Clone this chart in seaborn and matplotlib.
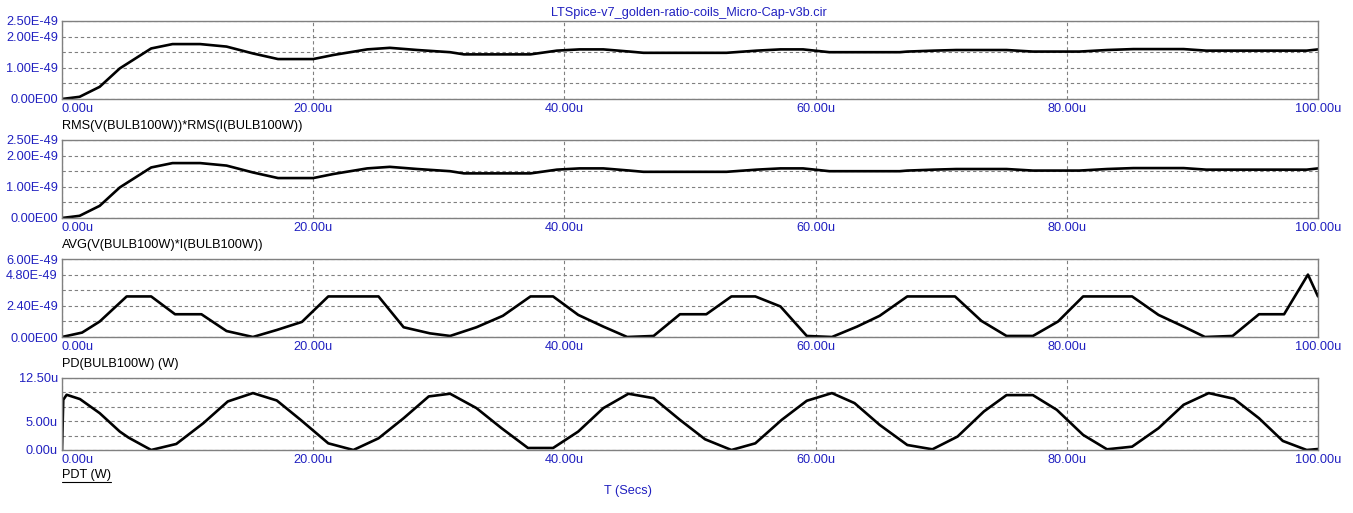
import numpy as np
import pandas as pd
import matplotlib
matplotlib.use("Agg")
import matplotlib.pyplot as plt
import seaborn as sns
from matplotlib.lines import Line2D

# --- data (time in microseconds) ---
rms_t = [0, 1.4, 3.0, 4.6, 7.1, 8.8, 11.0, 13.1, 15.2, 17.2, 20.0, 21.6, 24.3, 26.1, 28.3,
         30.9, 32.0, 37.3, 39.4, 41.2, 43.1, 45.2, 46.3, 52.9, 55.3, 57.2, 59.0, 61.1, 66.7,
         67.3, 69.4, 71.2, 75.2, 77.3, 81.0, 83.2, 85.3, 89.3, 91.1, 99.1, 100]
rms_v = [0, 0.07, 0.39, 0.98, 1.62, 1.76, 1.76, 1.68, 1.46, 1.28, 1.28, 1.41, 1.59, 1.64, 1.57,
         1.50, 1.43, 1.43, 1.55, 1.59, 1.59, 1.52, 1.48, 1.48, 1.55, 1.59, 1.59, 1.50, 1.50,
         1.52, 1.55, 1.57, 1.57, 1.52, 1.52, 1.57, 1.60, 1.60, 1.55, 1.55, 1.59]

avg_t = [0, 1.4, 3.0, 4.6, 7.1, 8.8, 11.0, 13.1, 15.2, 17.2, 20.0, 21.6, 24.3, 26.1, 28.3,
         30.9, 32.0, 37.3, 39.4, 41.2, 43.1, 45.2, 46.3, 52.9, 55.3, 57.2, 59.0, 61.1, 66.7,
         67.3, 69.4, 71.2, 75.2, 77.3, 81.0, 83.2, 85.3, 89.3, 91.1, 99.1, 100]
avg_v = [0, 0.07, 0.39, 0.98, 1.62, 1.76, 1.76, 1.68, 1.46, 1.28, 1.28, 1.41, 1.59, 1.64, 1.57,
         1.50, 1.43, 1.43, 1.55, 1.59, 1.59, 1.52, 1.48, 1.48, 1.55, 1.59, 1.59, 1.50, 1.50,
         1.52, 1.55, 1.57, 1.57, 1.52, 1.52, 1.57, 1.60, 1.60, 1.55, 1.55, 1.59]

pd_t = [0, 1.6, 3.0, 5.15, 7.1, 9.0, 11.1, 13.1, 15.2, 17.1, 19.1, 21.2, 25.2, 27.2, 29.3,
        30.9, 33.0, 35.1, 37.3, 39.1, 41.1, 43.1, 45.0, 47.1, 49.2, 51.3, 53.3, 55.2, 57.2,
        59.3, 61.3, 63.3, 65.1, 67.3, 71.1, 73.2, 75.2, 77.3, 79.3, 81.3, 85.2, 87.3, 89.3,
        91.0, 93.2, 95.3, 97.3, 99.2, 100]
pd_v = [0, 0.34, 1.19, 3.12, 3.12, 1.75, 1.75, 0.46, 0, 0.54, 1.16, 3.12, 3.12, 0.75, 0.28,
        0.08, 0.75, 1.63, 3.12, 3.12, 1.70, 0.80, 0, 0.08, 1.75, 1.75, 3.12, 3.12, 2.35,
        0.08, 0, 0.80, 1.63, 3.12, 3.12, 1.24, 0.08, 0.08, 1.19, 3.12, 3.12, 1.70, 0.80,
        0, 0.08, 1.75, 1.75, 4.80, 3.12]

pdt_t = [0, 0.1, 0.37, 1.43, 3.0, 4.6, 5.3, 7.1, 9.1, 11.25, 13.2, 15.2, 17.1, 19.0, 21.2,
         23.2, 25.2, 27.2, 29.2, 30.9, 33.0, 35.0, 37.1, 39.1, 41.1, 43.1, 45.1, 47.1, 49.2,
         51.2, 53.3, 55.2, 57.3, 59.3, 61.3, 63.1, 65.1, 67.3, 69.3, 71.3, 73.4, 75.2, 77.3,
         79.2, 81.3, 83.2, 85.2, 87.3, 89.3, 91.3, 93.3, 95.3, 97.2, 99.1, 100]
pdt_v = [0, 8.72, 9.59, 8.84, 6.4, 3.2, 2.15, 0, 1.05, 4.65, 8.43, 9.88, 8.6, 5.23, 1.16,
         0, 2.03, 5.52, 9.3, 9.77, 7.27, 3.78, 0.35, 0.35, 3.2, 7.27, 9.77, 9.0, 5.23,
         1.86, 0, 1.16, 5.23, 8.55, 9.88, 8.14, 4.36, 0.87, 0.12, 2.33, 6.69, 9.53, 9.53,
         6.98, 2.62, 0.12, 0.58, 3.78, 7.85, 9.88, 8.9, 5.52, 1.57, 0, 0.17]

x_ticks = [0, 20, 40, 60, 80, 100]
x_labels = ["0.00u", "20.00u", "40.00u", "60.00u", "80.00u", "100.00u"]

e49_ticks = [0, 0.5, 1.0, 1.5, 2.0, 2.5]
e49_labels = ["0.00E00", "", "1.00E-49", "", "2.00E-49", "2.50E-49"]
pd_ticks = [0, 1.2, 2.4, 3.6, 4.8, 6.0]
pd_labels = ["0.00E00", "", "2.40E-49", "", "4.80E-49", "6.00E-49"]
pdt_ticks = [0, 2.5, 5.0, 7.5, 10.0, 12.5]
pdt_labels = ["0.00u", "", "5.00u", "", "", "12.50u"]

captions = ["RMS(V(BULB100W))*RMS(I(BULB100W))",
            "AVG(V(BULB100W)*I(BULB100W))",
            "PD(BULB100W) (W)",
            "PDT (W)"]
title = "LTSpice-v7_golden-ratio-coils_Micro-Cap-v3b.cir"
x_title = "T (Secs)"

BLUE = "#2020C0"
GRID = "#808080"
FS = 9.2

sns.set_style("white")
plt.rcParams['font.family'] = ['Liberation Sans', 'DejaVu Sans']

W, H = 1353, 513
fig = plt.figure(figsize=(W / 100, H / 100), dpi=100)

# panel boxes in pixels: (top, bottom)
boxes = [(21, 99), (140, 218), (259, 337), (378, 450)]
caption_y = [126, 245, 364, 475]
left_px, right_px = 62, 1318

series = [(rms_t, rms_v, e49_ticks, e49_labels),
          (avg_t, avg_v, e49_ticks, e49_labels),
          (pd_t, pd_v, pd_ticks, pd_labels),
          (pdt_t, pdt_v, pdt_ticks, pdt_labels)]

for i, ((t, v, yt, yl), (top, bot)) in enumerate(zip(series, boxes)):
    ax = fig.add_axes([left_px / W, 1 - bot / H, (right_px - left_px) / W, (bot - top) / H])
    df = pd.DataFrame({"t": t, "v": v})
    sns.lineplot(data=df, x="t", y="v", ax=ax, color="black", lw=1.9, estimator=None)
    ax.set_xlim(0, 100)
    ax.set_ylim(yt[0], yt[-1])
    ax.set_xlabel("")
    ax.set_ylabel("")
    ax.set_xticks(x_ticks)
    ax.set_xticklabels(x_labels)
    ax.set_yticks(yt)
    ax.set_yticklabels(yl)
    ax.tick_params(length=0, labelsize=FS, labelcolor=BLUE, pad=3)
    ax.get_xticklabels()[0].set_ha("left")
    ax.grid(True, color=GRID, ls=(0, (3, 2.5)), lw=0.8)
    for s in ax.spines.values():
        s.set_color(GRID)
        s.set_linewidth(1.0)
    txt = fig.text(left_px / W, 1 - caption_y[i] / H, captions[i],
                   ha="left", va="center", fontsize=FS, color="black")
    if i == 3:
        # underline the last caption
        fig.canvas.draw()
        bb = txt.get_window_extent()
        y_line = bb.y0 - 1
        fig.add_artist(Line2D([bb.x0 / W, bb.x1 / W], [y_line / H, y_line / H],
                              color="black", lw=0.8, transform=fig.transFigure))

fig.text(689 / W, 1 - 13 / H, title, ha="center", va="center", fontsize=FS, color=BLUE)
fig.text(628 / W, 1 - 491 / H, x_title, ha="center", va="center", fontsize=FS, color=BLUE)

fig.savefig("out.png", dpi=100, facecolor="white")
